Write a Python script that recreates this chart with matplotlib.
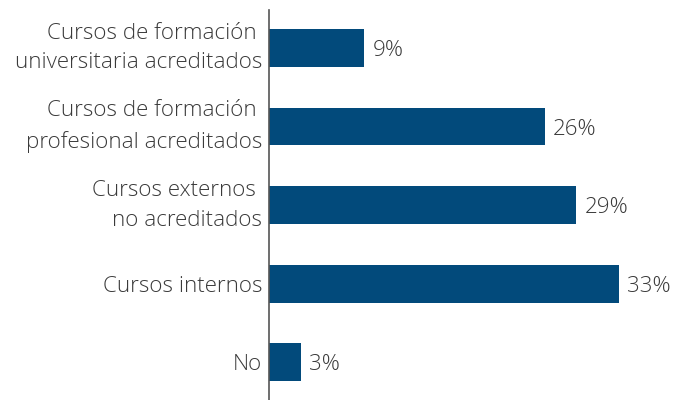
import matplotlib
matplotlib.use("Agg")
import matplotlib.pyplot as plt

categories = [
    "Cursos de formación \nuniversitaria acreditados",
    "Cursos de formación \nprofesional acreditados",
    "Cursos externos \nno acreditados",
    "Cursos internos",
    "No",
]
values = [9, 26, 29, 33, 3]
value_labels = ["9%", "26%", "29%", "33%", "3%"]

plt.rcParams['font.family'] = ['Open Sans', 'DejaVu Sans']

fig = plt.figure(figsize=(6.83, 4.0), dpi=100)
ax = fig.add_axes([269/683, 0.0, 1 - 269/683, 1 - 10/400])

bar_color = "#024a7b"
text_color = "#3a3a3a"
positions = list(range(len(categories)))
ax.barh(positions, values, height=0.48, color=bar_color)

for y, v, lab in zip(positions, values, value_labels):
    ax.annotate(lab, xy=(v, y), xytext=(6, 0), textcoords="offset points",
                va="center_baseline", ha="left", fontsize=16.1, color=text_color,
                fontweight="light")

ax.set_yticks(positions)
ax.set_yticklabels(categories, fontsize=16.1, color=text_color,
                   linespacing=1.55, fontweight="light")
for t in ax.get_yticklabels():
    t.set_multialignment("right")
    if "\n" in t.get_text():
        t.set_verticalalignment("center")
ax.tick_params(axis="y", length=0, pad=5)
ax.tick_params(axis="x", bottom=False, labelbottom=False)

ax.set_ylim(4.48, -0.484)
ax.set_xlim(0, 39.06)
for s in ["top", "right", "bottom"]:
    ax.spines[s].set_visible(False)
ax.spines["left"].set_color("#555555")
ax.spines["left"].set_linewidth(1.2)

fig.savefig("out.png", dpi=100)
